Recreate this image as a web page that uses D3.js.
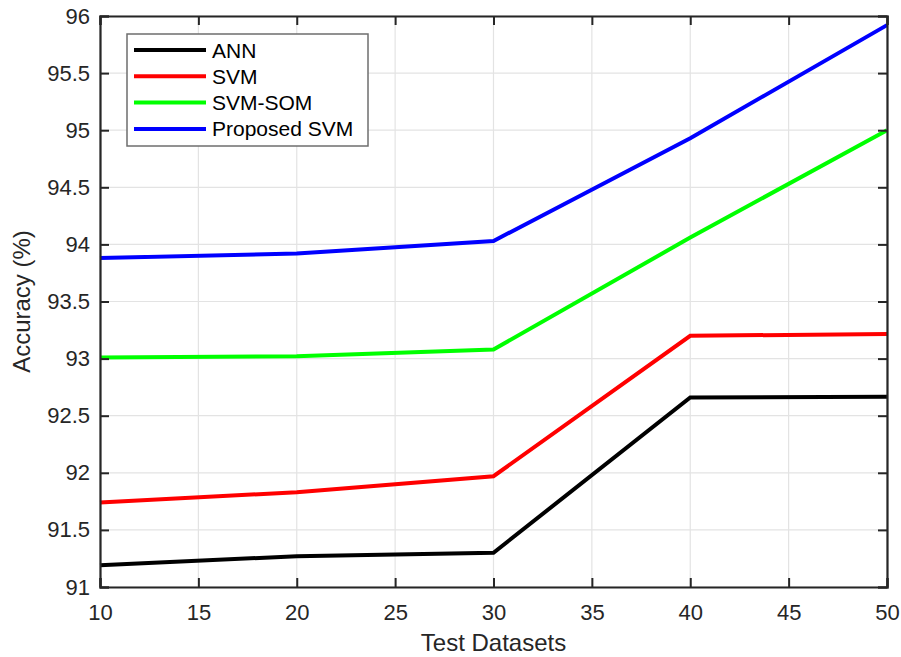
<!DOCTYPE html>
<html>
<head>
<meta charset="utf-8">
<script src="https://cdn.jsdelivr.net/npm/d3@7"></script>
<style>
  body { margin: 0; background: #fff; }
  text { font-family: "Liberation Sans", Arial, sans-serif; fill: #262626; }
</style>
</head>
<body>
<div id="chart"></div>
<script>
var datasets = [10, 20, 30, 40, 50];
var seriesNames = ["ANN", "SVM", "SVM-SOM", "Proposed SVM"];
var seriesColors = ["#000000", "#ff0000", "#00ff00", "#0000ff"];
var ann = [91.19, 91.27, 91.30, 92.66, 92.665];
var svm = [91.74, 91.83, 91.97, 93.20, 93.215];
var svmSom = [93.01, 93.02, 93.08, 94.06, 95.00];
var proposed = [93.88, 93.92, 94.03, 94.93, 95.92];
var xTicks = [10, 15, 20, 25, 30, 35, 40, 45, 50];
var yTicks = [91, 91.5, 92, 92.5, 93, 93.5, 94, 94.5, 95, 95.5, 96];

var margin = { top: 16, left: 100, right: 14, bottom: 70 },
    width = 901 - margin.left - margin.right,
    height = 657 - margin.top - margin.bottom;

var svg = d3.select("#chart")
    .append("svg")
    .attr("width", 901)
    .attr("height", 657)
    .append("g")
    .attr("transform", "translate(" + margin.left + "," + margin.top + ")");

var x = d3.scaleLinear().domain([10, 50]).range([0, width]);
var y = d3.scaleLinear().domain([91, 96]).range([height, 0]);

// grid
svg.append("g").selectAll("line").data(xTicks).enter().append("line")
    .attr("x1", d => x(d)).attr("x2", d => x(d))
    .attr("y1", 0).attr("y2", height)
    .attr("stroke", "#e3e3e3").attr("stroke-width", 1.2);
svg.append("g").selectAll("line").data(yTicks).enter().append("line")
    .attr("y1", d => y(d)).attr("y2", d => y(d))
    .attr("x1", 0).attr("x2", width)
    .attr("stroke", "#e3e3e3").attr("stroke-width", 1.2);

// lines
var all = [ann, svm, svmSom, proposed];
var line = d3.line()
    .x((d, i) => x(datasets[i]))
    .y(d => y(d));

svg.selectAll(".series")
    .data(all)
    .enter().append("path")
    .attr("class", "series")
    .attr("d", line)
    .attr("fill", "none")
    .attr("stroke", (d, i) => seriesColors[i])
    .attr("stroke-width", 4);

// axes (MATLAB style, inward ticks)
var tickLen = 9;
var fmt = d3.format("~g");
var xAxis = svg.append("g").attr("transform", "translate(0," + height + ")")
    .call(d3.axisBottom(x).tickValues(xTicks).tickSize(-tickLen).tickPadding(17).tickFormat(fmt));
var xTop = svg.append("g")
    .call(d3.axisTop(x).tickValues(xTicks).tickSize(-tickLen).tickFormat(""));
var yAxis = svg.append("g")
    .call(d3.axisLeft(y).tickValues(yTicks).tickSize(-tickLen).tickPadding(10).tickFormat(fmt));
var yRight = svg.append("g").attr("transform", "translate(" + width + ",0)")
    .call(d3.axisRight(y).tickValues(yTicks).tickSize(-tickLen).tickFormat(""));

[xAxis, xTop, yAxis, yRight].forEach(function (g) {
    g.select(".domain").attr("stroke", "#262626").attr("stroke-width", 2.2);
    g.selectAll(".tick line").attr("stroke", "#262626").attr("stroke-width", 2);
    g.selectAll(".tick text").style("font-size", "22px").attr("fill", "#262626")
        .style("font-family", "'Liberation Sans', Arial, sans-serif");
});

// axis titles
svg.append("text")
    .attr("x", width / 2)
    .attr("y", height + 64)
    .attr("text-anchor", "middle")
    .style("font-size", "24px")
    .text("Test Datasets");

svg.append("text")
    .attr("transform", "translate(" + (-70) + "," + (height / 2) + ") rotate(-90)")
    .attr("text-anchor", "middle")
    .style("font-size", "24px")
    .text("Accuracy (%)");

// legend
var legend = svg.append("g").attr("transform", "translate(27,18)");
legend.append("rect")
    .attr("width", 241).attr("height", 112)
    .attr("fill", "#fff").attr("stroke", "#6e6e6e").attr("stroke-width", 1.5);

var items = legend.selectAll(".item")
    .data(seriesNames)
    .enter().append("g")
    .attr("class", "item")
    .attr("transform", (d, i) => "translate(0," + (16 + i * 26.3) + ")");
items.append("line")
    .attr("x1", 7).attr("x2", 79)
    .attr("stroke", (d, i) => seriesColors[i])
    .attr("stroke-width", 4);
items.append("text")
    .attr("x", 85).attr("y", 7.5)
    .style("font-size", "21px")
    .style("fill", "#000")
    .text(d => d);
</script>
</body>
</html>
